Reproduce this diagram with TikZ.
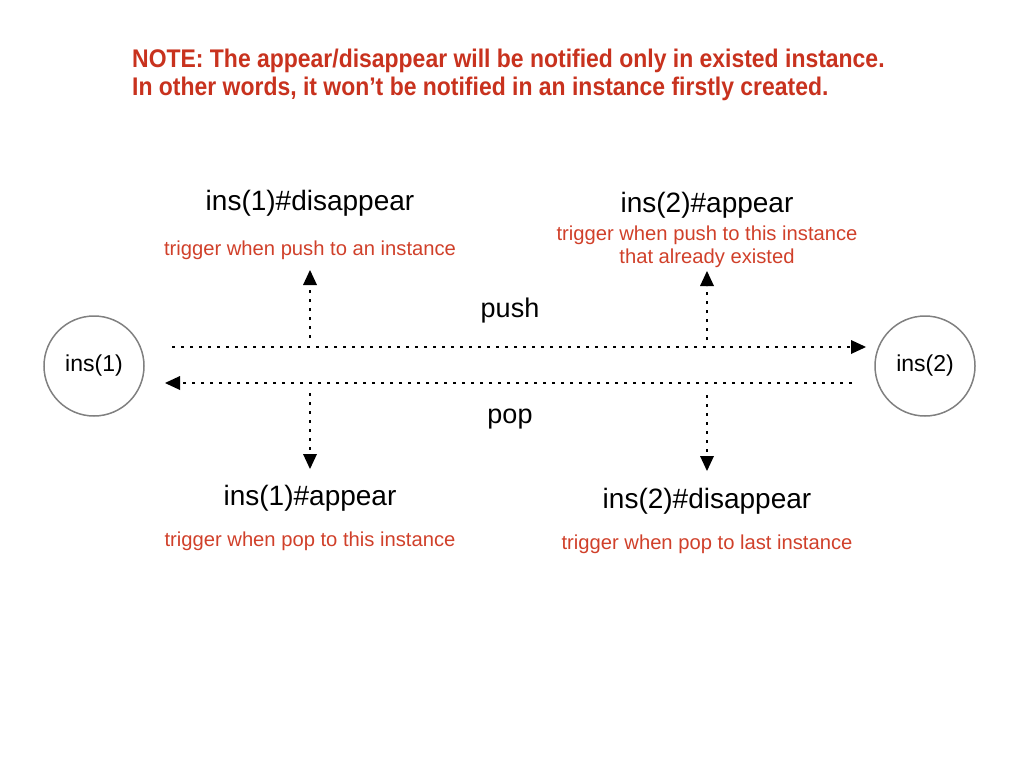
\documentclass[tikz,border=0pt]{standalone}
\usepackage{fontspec}
\setmainfont{Liberation Sans}
\newfontfamily\notefont[FakeStretch=0.9]{Liberation Sans}
\usetikzlibrary{arrows.meta}
\definecolor{notered}{HTML}{C8321E}
\definecolor{labred}{HTML}{D0402A}
\definecolor{ringgray}{HTML}{808080}
\tikzset{
  inst/.style={circle, draw=ringgray, line width=1.5pt, minimum size=100pt, inner sep=0pt, font=\fontsize{23}{27}\selectfont},
  dotline/.style={line width=2.8pt, dash pattern=on 2.8pt off 6.2pt, -{Triangle[length=15pt,width=14pt,round=false,line width=0pt]}},
  evt/.style={font=\fontsize{28}{32}\selectfont, inner sep=0pt},
  trig/.style={font=\fontsize{20.2}{23.5}\selectfont, text=labred, inner sep=0pt, align=center},
  oplab/.style={font=\fontsize{27}{30}\selectfont, inner sep=0pt},
  note/.style={font=\notefont\bfseries\fontsize{25.5}{28}\selectfont, text=notered, inner sep=0pt, align=left, anchor=west}
}
\begin{document}
\begin{tikzpicture}[x=1pt,y=-1pt]
\useasboundingbox (0,0) rectangle (1024,768);
\node[note] (n1) at (132,61) {NOTE: The appear/disappear will be notified only in existed instance.};
\node[note] (n2) at (132,89) {In other words, it won’t be notified in an instance firstly created.};
\node[inst] (i1) at (94,366) {ins(1)};
\node[inst] (i2) at (925,366) {ins(2)};
\coordinate (ps) at (172,347);
\coordinate (pe) at (866,347);
\coordinate (qs) at (852,383);
\coordinate (qe) at (165,383);
\draw[dotline] (ps) -- (pe);
\draw[dotline] (qs) -- (qe);
\node[oplab] (push) at (510,311) {push};
\node[oplab] (pop) at (510,419) {pop};
\coordinate (a1) at (310,338);
\coordinate (a1e) at (310,270);
\coordinate (a2) at (707,340);
\coordinate (a2e) at (707,271);
\coordinate (b1) at (310,393);
\coordinate (b1e) at (310,469);
\coordinate (b2) at (707,395);
\coordinate (b2e) at (707,471);
\draw[dotline] (a1) -- (a1e);
\draw[dotline] (a2) -- (a2e);
\draw[dotline] (b1) -- (b1e);
\draw[dotline] (b2) -- (b2e);
\node[evt] (e1) at (310,203) {ins(1)\#disappear};
\node[trig] (t1) at (310,250) {trigger when push to an instance};
\node[evt] (e2) at (707,205) {ins(2)\#appear};
\node[trig] (t2) at (707,247) {trigger when push to this instance\\that already existed};
\node[evt] (e3) at (310,498) {ins(1)\#appear};
\node[trig] (t3) at (310,541) {trigger when pop to this instance};
\node[evt] (e4) at (707,501) {ins(2)\#disappear};
\node[trig] (t4) at (707,544) {trigger when pop to last instance};
\end{tikzpicture}
\end{document}
